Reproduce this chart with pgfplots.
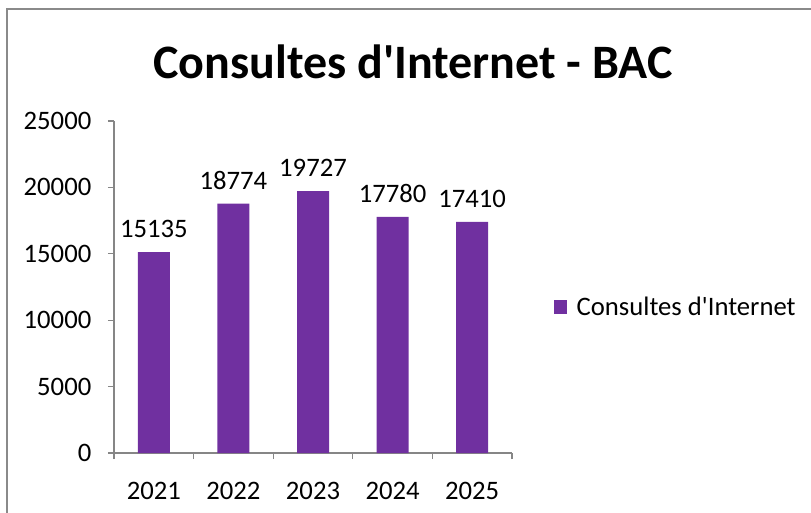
\documentclass[border=0pt]{standalone}
\usepackage{pgfplots}
\pgfplotsset{compat=1.18}
\usepackage{fontspec}
\setmainfont{Carlito}
\definecolor{barpurple}{HTML}{7030A0}
\definecolor{axisgray}{HTML}{868686}
\definecolor{framegray}{HTML}{8A8A8A}
\begin{document}
\begin{tikzpicture}
\useasboundingbox (0pt,0pt) rectangle (608.25pt,384pt);
\begin{scope}
\clip (0pt,0pt) rectangle (608.25pt,384pt);
\draw[framegray,line width=1.5pt] (4.9pt,-10pt) -- (4.9pt,377.25pt) -- (620pt,377.25pt);
\end{scope}
\node[font=\bfseries\fontsize{36}{42}\selectfont,anchor=base] at (309.75pt,325.5pt) {Consultes d\textquotesingle Internet - BAC};
\begin{axis}[
  at={(85.5pt,44.25pt)}, anchor=south west,
  scale only axis,
  width=298.5pt, height=249pt,
  xmin=-0.5, xmax=4.5, ymin=0, ymax=25000,
  axis x line*=bottom, axis y line*=left,
  axis line style={axisgray,line width=0.9pt},
  xtick={0,1,2,3,4},
  xticklabels={2021,2022,2023,2024,2025},
  major x tick style={draw=none},
  minor xtick={-0.5,0.5,1.5,2.5,3.5,4.5},
  minor tick style={axisgray,line width=0.9pt},
  minor tick length=4.5pt,
  ytick={0,5000,10000,15000,20000,25000},
  major tick style={axisgray,line width=0.9pt},
  major tick length=4.5pt,
  tick align=outside,
  tick pos=left,
  scaled y ticks=false,
  /pgf/number format/assume math mode=true,
  yticklabel style={/pgf/number format/1000 sep={},font=\fontsize{20}{24}\selectfont,xshift=-9pt},
  xticklabel style={font=\fontsize{20}{24}\selectfont,yshift=-14pt},
  ybar, bar width=24pt,
  nodes near coords,
  nodes near coords style={font=\fontsize{20}{24}\selectfont,/pgf/number format/1000 sep={},yshift=7pt},
  legend style={at={(1.105,0.44)},anchor=west,draw=none,font=\fontsize{20}{24}\selectfont,legend cell align=left,inner sep=0pt,column sep=5pt},
  legend image code/.code={\fill[barpurple] (0pt,-5pt) rectangle (10pt,5pt);},
  clip=false,
]
\addplot[fill=barpurple,draw=none] coordinates {(0,15135) (1,18774) (2,19727) (3,17780) (4,17410)};
\addlegendentry{Consultes d\textquotesingle Internet}
\end{axis}
\end{tikzpicture}
\end{document}
